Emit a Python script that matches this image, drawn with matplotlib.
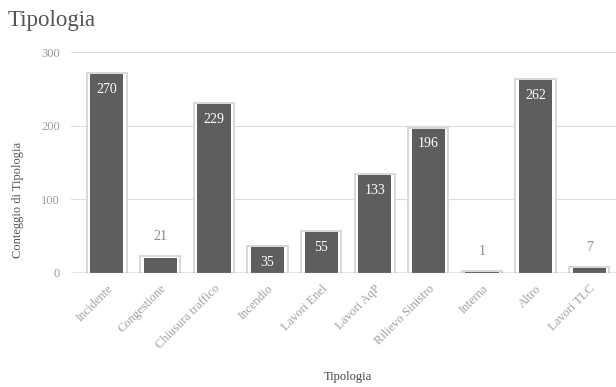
import numpy as np
from matplotlib import pyplot as plt

plt.rcParams['font.family'] = ['Liberation Serif', 'DejaVu Serif']

categorie = ['Incidente', 'Congestione', 'Chiusura traffico', 'Incendio', 'Lavori Enel',
             'Lavori AqP', 'Rilievo Sinistro', 'Interna', 'Altro', 'Lavori TLC']
conteggi = [270, 21, 229, 35, 55, 133, 196, 1, 262, 7]

fig = plt.figure(figsize=(6.16, 3.87), dpi=100)
ax = fig.add_axes([0.115, 0.2946, 0.885, 0.571])

x = np.arange(len(categorie))
# outer light frame, then dark bar inside
ax.bar(x, np.array(conteggi) + 3, width=0.75, bottom=-1.5, facecolor='white',
       edgecolor='#d8d8d8', linewidth=1.4, zorder=2)
ax.bar(x, conteggi, width=0.62, color='#5e5e5e', zorder=3)

for xi, v in zip(x, conteggi):
    if v > 30:
        ax.annotate(str(v), (xi, v), xytext=(0, -11), textcoords='offset points',
                    ha='center', va='center', color='white', fontsize=10, zorder=4)
    else:
        ax.annotate(str(v), (xi, v), xytext=(0, 15), textcoords='offset points',
                    ha='center', va='center', color='#8a8a8a', fontsize=10, zorder=4)

ax.set_xlim(-0.67, 9.5)
ax.set_ylim(0, 300)
ax.set_yticks([0, 100, 200, 300])
ax.yaxis.grid(True, color='#dcdcdc', linewidth=0.8, zorder=0)
ax.axhline(0, color='#8a8a8a', linewidth=1, zorder=5)
for s in ax.spines.values():
    s.set_visible(False)
ax.tick_params(axis='both', length=0, colors='#999999')
ax.tick_params(axis='y', pad=8, labelsize=9)
ax.tick_params(axis='x', pad=7, labelsize=9, colors='#a0a0a0')
ax.set_xticks(x)
ax.set_xticklabels(categorie, rotation=45, ha='right', rotation_mode='anchor')

fig.text(0.03, 0.483, 'Conteggio di Tipologia', rotation=90, ha='center', va='center',
         fontsize=9, color='#555555')
fig.text(0.565, 0.025, 'Tipologia', ha='center', va='center', fontsize=9, color='#444444')
fig.text(0.013, 0.948, 'Tipologia', ha='left', va='center', fontsize=16.5, color='#555555')

fig.savefig('out.png', dpi=100)
